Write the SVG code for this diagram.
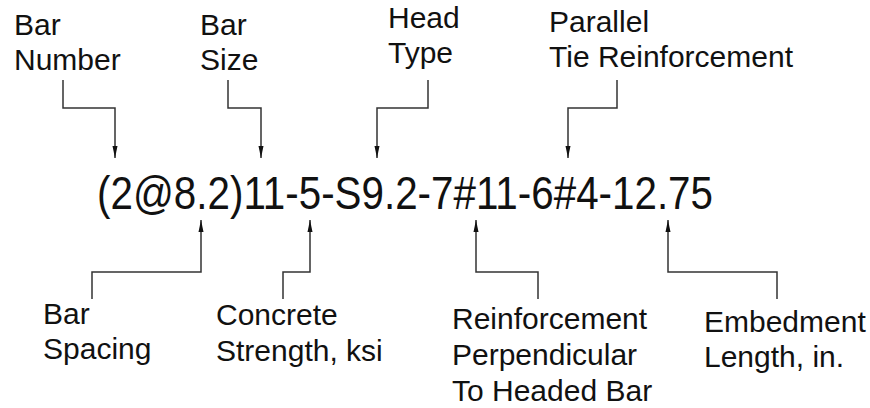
<svg xmlns="http://www.w3.org/2000/svg" width="870" height="408" viewBox="0 0 870 408">
<defs>
<marker id="arr" markerWidth="12" markerHeight="6" refX="12" refY="3" orient="auto" markerUnits="userSpaceOnUse">
<path d="M0,0.5 L12,3 L0,5.5 Z" fill="#111"/>
</marker>
<style>
.lbl{font-family:"Liberation Sans",Arial,sans-serif;font-size:30px;fill:#111}
.main{font-family:"Liberation Sans",Arial,sans-serif;font-size:46px;fill:#111}
.con{fill:none;stroke:#333;stroke-width:1.5;marker-end:url(#arr)}
</style>
</defs>
<rect width="870" height="408" fill="#fff"/>
<g id="code"><text class="main" x="97" y="209" textLength="616" lengthAdjust="spacingAndGlyphs">(2@8.2)11-5-S9.2-7#11-6#4-12.75</text></g>
<g id="bar-number"><text class="lbl" x="14" y="35">Bar</text><text class="lbl" x="14" y="70">Number</text></g>
<g id="bar-size"><text class="lbl" x="200" y="35">Bar</text><text class="lbl" x="200" y="70">Size</text></g>
<g id="head-type"><text class="lbl" x="388" y="28">Head</text><text class="lbl" x="388" y="63">Type</text></g>
<g id="parallel-tie"><text class="lbl" x="549" y="32">Parallel</text><text class="lbl" x="549" y="67">Tie Reinforcement</text></g>
<g id="bar-spacing"><text class="lbl" x="43" y="324">Bar</text><text class="lbl" x="43" y="359">Spacing</text></g>
<g id="concrete-strength"><text class="lbl" x="216" y="325">Concrete</text><text class="lbl" x="216" y="361">Strength, ksi</text></g>
<g id="perpendicular-reinf"><text class="lbl" x="452" y="329">Reinforcement</text><text class="lbl" x="452" y="365">Perpendicular</text><text class="lbl" x="452" y="401">To Headed Bar</text></g>
<g id="embedment"><text class="lbl" x="704" y="332">Embedment</text><text class="lbl" x="704" y="367">Length, in.</text></g>
<g id="connectors">
<path class="con" d="M63,80 V108 H115 V158"/>
<path class="con" d="M228,80 V108 H261 V158"/>
<path class="con" d="M428,80 V108 H377 V158"/>
<path class="con" d="M617,80 V108 H568 V158"/>
<path class="con" d="M92,299 V272 H201 V220"/>
<path class="con" d="M283,299 V272 H310 V220"/>
<path class="con" d="M538,299 V272 H476 V220"/>
<path class="con" d="M777,299 V272 H668 V220"/>
</g>
</svg>
